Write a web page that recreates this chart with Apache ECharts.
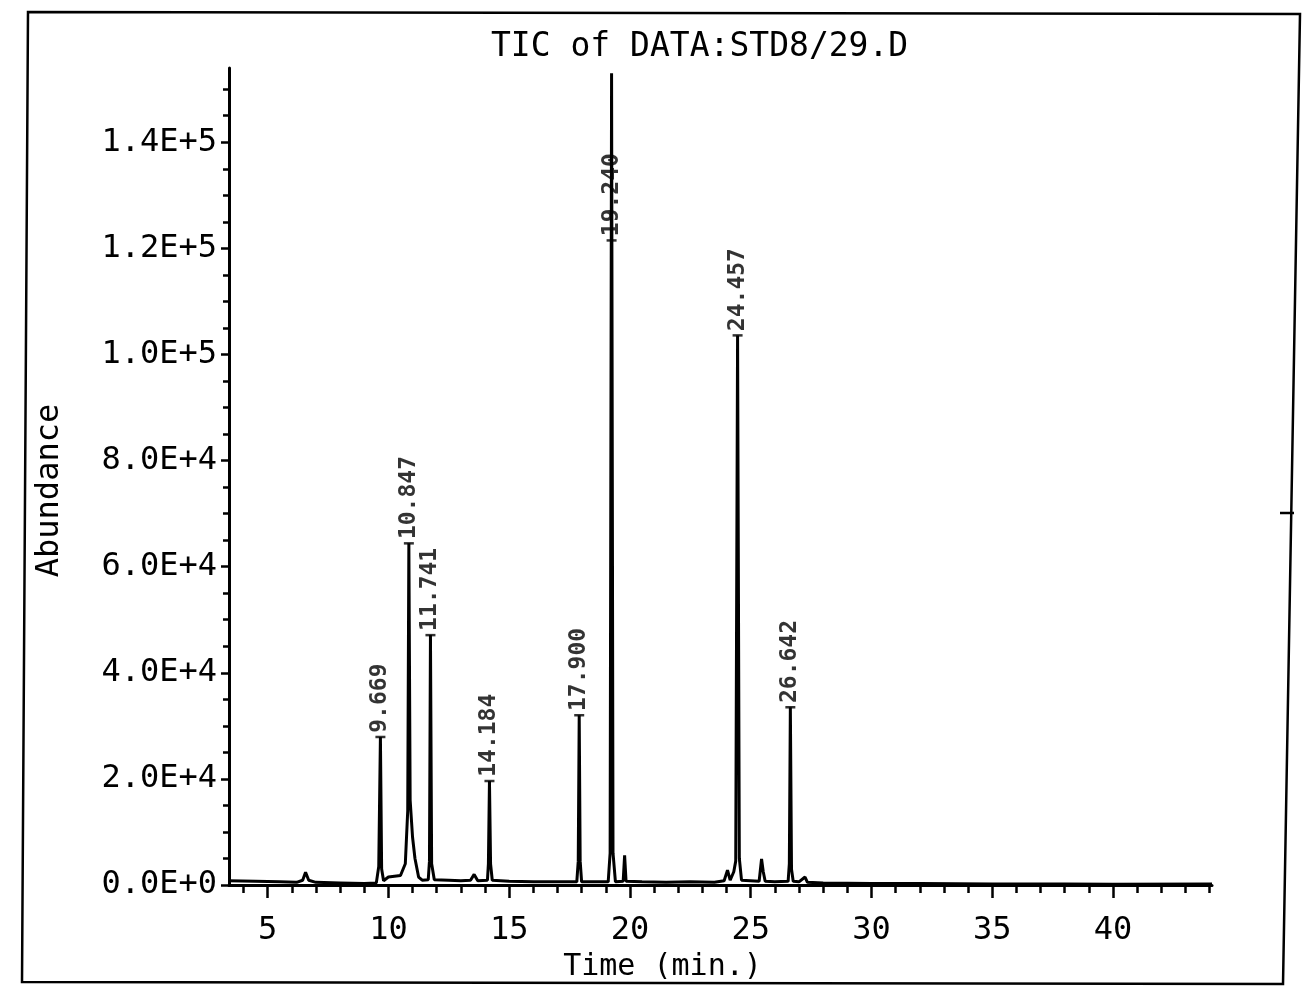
<!DOCTYPE html>
<html>
<head>
<meta charset="utf-8">
<script src="https://cdn.jsdelivr.net/npm/echarts@6/dist/echarts.min.js"></script>
<style>
html,body{margin:0;padding:0;background:#fff;}
#chart{width:1309px;height:994px;}
</style>
</head>
<body>
<div id="chart"></div>
<script>
// ---- data ----
const traceTime = [3.4, 4.5, 5.5, 6.2, 6.45, 6.57, 6.7, 7.0, 8.0, 9.0, 9.5, 9.6, 9.669, 9.72, 9.8,
  10.0, 10.5, 10.7, 10.8, 10.847, 10.9, 11.0, 11.1, 11.25, 11.4, 11.65, 11.7, 11.741, 11.79, 11.9,
  12.5, 13.0, 13.4, 13.55, 13.7, 14.1, 14.14, 14.184, 14.23, 14.3, 15.0, 16.0, 17.0, 17.8, 17.86,
  17.9, 17.94, 18.0, 18.5, 19.1, 19.18, 19.24, 19.3, 19.4, 19.72, 19.78, 19.84, 20.5, 21.5, 22.5,
  23.5, 23.9, 24.04, 24.15, 24.3, 24.38, 24.457, 24.53, 24.62, 25.35, 25.45, 25.52, 25.6, 26.0,
  26.55, 26.6, 26.642, 26.69, 26.76, 27.0, 27.25, 27.35, 28.0, 30.0, 32.0, 35.0, 38.0, 40.0, 44.1];
const traceAbundance = [800, 700, 600, 500, 900, 2400, 900, 500, 400, 300, 400, 3500, 27900, 3000, 800,
  1500, 1800, 4000, 14000, 64400, 16000, 9000, 5000, 1500, 900, 1000, 4500, 47100, 4000, 1000,
  900, 800, 900, 2000, 800, 900, 4000, 19600, 4000, 900, 700, 600, 600, 600, 4500,
  32000, 4500, 600, 600, 600, 6000, 153000, 6000, 600, 700, 5600, 700, 600, 500, 600,
  500, 800, 2800, 900, 2500, 4500, 103600, 5000, 900, 700, 4900, 2500, 700, 600,
  700, 4000, 33500, 3000, 700, 600, 1500, 500, 400, 300, 300, 200, 200, 150, 200];

const peakTimes = [9.669, 10.847, 11.741, 14.184, 17.900, 19.240, 24.457, 26.642];
const peakTops = [27900, 64400, 47100, 19600, 32000, 153000, 103600, 33500];
const peakLabels = ['9.669', '10.847', '11.741', '14.184', '17.900', '19.240', '24.457', '26.642'];

const xMajorTicks = [5, 10, 15, 20, 25, 30, 35, 40];
const xMinorTicks = [4,5,6,7,8,9,10,11,12,13,14,15,16,17,18,19,20,21,22,23,24,25,26,27,28,29,30,31,32,33,34,35,36,37,38,39,40,41,42,43,44];
const yMajorTicks = [0, 20000, 40000, 60000, 80000, 100000, 120000, 140000];
const yMinorTicks = [5000,10000,15000,25000,30000,35000,45000,50000,55000,65000,70000,75000,85000,90000,95000,105000,110000,115000,125000,130000,135000,145000,150000];

// ---- layout constants ----
const FONT = 'DejaVu Sans Mono';
const X_MIN = 3.4, X_MAX = 44.1, Y_MAX = 154000;
const LABEL_CEILING = 121500; // the plotter drops an off-scale peak's label to this height

const trace = traceTime.map((t, i) => [t, traceAbundance[i]]);
const peakMarks = peakTimes.map((t, i) => ({
  value: [t, Math.min(peakTops[i], LABEL_CEILING)],
  name: peakLabels[i]
}));

function sci(v) {
  if (v === 0) return '0.0E+0';
  const e = Math.floor(Math.log10(v) + 1e-9);
  const m = v / Math.pow(10, e);
  return m.toFixed(1) + 'E+' + e;
}

const chart = echarts.init(document.getElementById('chart'));
chart.setOption({
  backgroundColor: '#ffffff',
  animation: false,
  title: {
    text: 'TIC of DATA:STD8/29.D',
    left: 486, top: 26,
    textStyle: {fontFamily: FONT, fontSize: 33, fontWeight: 'normal', color: '#000'}
  },
  grid: {left: 229, right: 97, top: 68, bottom: 109},
  xAxis: [{
    type: 'value', min: X_MIN, max: X_MAX, position: 'bottom',
    name: 'Time (min.)', nameLocation: 'middle', nameGap: 64,
    nameTextStyle: {fontFamily: FONT, fontSize: 30, color: '#000', padding: [0, 116, 0, 0]},
    axisLine: {show: true, onZero: false, lineStyle: {color: '#000', width: 3}},
    axisTick: {show: true, customValues: xMajorTicks, length: 13, lineStyle: {color: '#000', width: 2.5}},
    axisLabel: {show: true, customValues: xMajorTicks, margin: 30, fontFamily: FONT, fontSize: 32, color: '#000'},
    splitLine: {show: false}
  }, {
    type: 'value', min: X_MIN, max: X_MAX, position: 'bottom',
    axisLine: {show: false},
    axisTick: {show: true, customValues: xMinorTicks, length: 8, lineStyle: {color: '#000', width: 2.5}},
    axisLabel: {show: false},
    splitLine: {show: false}
  }],
  yAxis: [{
    type: 'value', min: 0, max: Y_MAX, position: 'left',
    name: 'Abundance', nameLocation: 'middle', nameGap: 163,
    nameTextStyle: {fontFamily: FONT, fontSize: 32, color: '#000', padding: [0, 28, 0, 0]},
    axisLine: {show: true, onZero: false, lineStyle: {color: '#000', width: 3}},
    axisTick: {show: true, customValues: yMajorTicks, length: 8, lineStyle: {color: '#000', width: 2.5}},
    axisLabel: {show: true, customValues: yMajorTicks, margin: 12, fontFamily: FONT, fontSize: 32, color: '#000', formatter: sci},
    splitLine: {show: false}
  }, {
    type: 'value', min: 0, max: Y_MAX, position: 'left',
    axisLine: {show: false},
    axisTick: {show: true, customValues: yMinorTicks, length: 6, lineStyle: {color: '#000', width: 2.5}},
    axisLabel: {show: false},
    splitLine: {show: false}
  }],
  series: [{
    type: 'line',
    data: trace,
    xAxisIndex: 0, yAxisIndex: 0,
    showSymbol: false,
    lineStyle: {color: '#000', width: 3},
    z: 3
  }, {
    type: 'scatter',
    data: peakMarks,
    xAxisIndex: 0, yAxisIndex: 0,
    symbol: 'rect', symbolSize: [10, 2.5],
    itemStyle: {color: '#000'},
    label: {
      show: true, position: 'top', distance: 3,
      rotate: 90, align: 'left', verticalAlign: 'middle',
      formatter: p => p.name,
      fontFamily: FONT, fontSize: 23, fontWeight: 'bold', color: '#000'
    },
    z: 4
  }],
  graphic: [{
    type: 'polygon',
    shape: {points: [[28, 12], [1300, 14], [1283, 984], [22, 982]]},
    style: {fill: null, stroke: '#000', lineWidth: 2.5},
    silent: true
  }, {
    type: 'line',
    shape: {x1: 1280, y1: 513, x2: 1294, y2: 513},
    style: {stroke: '#000', lineWidth: 2.5},
    silent: true
  }]
});
</script>
</body>
</html>
